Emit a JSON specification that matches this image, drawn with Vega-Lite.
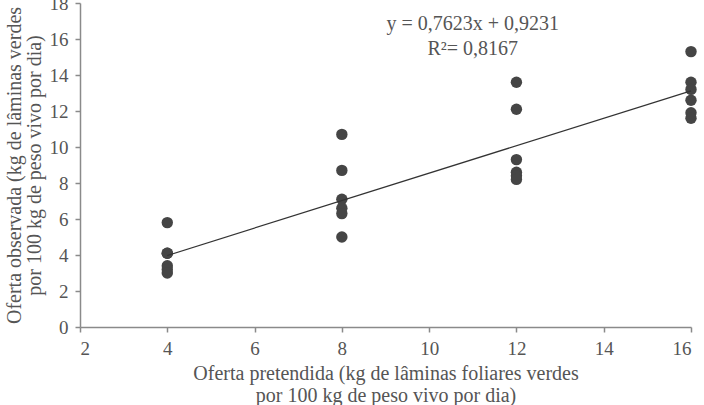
{
  "$schema": "https://vega.github.io/schema/vega-lite/v6.json",
  "width": 611,
  "height": 324,
  "autosize": "none",
  "padding": {"left": 80, "top": 3, "right": 13, "bottom": 78},
  "background": "white",
  "config": {
    "view": {"stroke": null},
    "font": "Liberation Serif",
    "axis": {
      "grid": false,
      "domainColor": "#8a8a8a",
      "domainWidth": 1.5,
      "tickColor": "#8a8a8a",
      "tickWidth": 1.5,
      "tickSize": 5,
      "labelOverlap": false,
      "labelFont": "Liberation Serif",
      "labelFontSize": 19,
      "labelColor": "#555555",
      "titleFont": "Liberation Serif",
      "titleFontSize": 20,
      "titleFontWeight": "normal",
      "titleColor": "#555555"
    }
  },
  "datasets": {
    "pts": [
      {"x": 4, "y": 5.8}, {"x": 4, "y": 4.1}, {"x": 4, "y": 4.1}, {"x": 4, "y": 3.4}, {"x": 4, "y": 3.2}, {"x": 4, "y": 3.0},
      {"x": 8, "y": 10.7}, {"x": 8, "y": 8.7}, {"x": 8, "y": 7.1}, {"x": 8, "y": 6.6}, {"x": 8, "y": 6.3}, {"x": 8, "y": 5.0},
      {"x": 12, "y": 13.6}, {"x": 12, "y": 12.1}, {"x": 12, "y": 9.3}, {"x": 12, "y": 8.6}, {"x": 12, "y": 8.4}, {"x": 12, "y": 8.2},
      {"x": 16, "y": 15.3}, {"x": 16, "y": 13.6}, {"x": 16, "y": 13.2}, {"x": 16, "y": 12.6}, {"x": 16, "y": 11.9}, {"x": 16, "y": 11.6}
    ],
    "fit": [{"x": 4, "y": 3.9723}, {"x": 16, "y": 13.1199}],
    "ann": [
      {"x": 11, "y": 16.85, "t": "y = 0,7623x + 0,9231"},
      {"x": 11, "y": 15.45, "t": "R²= 0,8167"}
    ]
  },
  "encoding": {
    "x": {"field": "x", "type": "quantitative", "scale": {"domain": [2, 16], "nice": false, "zero": false},
          "axis": {"values": [2, 4, 6, 8, 10, 12, 14, 16], "labelPadding": 7,
                   "title": ["Oferta pretendida (kg de lâminas foliares verdes", "por 100 kg de peso vivo por dia)"],
                   "titlePadding": 5, "titleLineHeight": 22}},
    "y": {"field": "y", "type": "quantitative", "scale": {"domain": [0, 18], "nice": false},
          "axis": {"values": [0, 2, 4, 6, 8, 10, 12, 14, 16, 18], "labelPadding": 7,
                   "title": ["Oferta observada (kg de lâminas verdes", "por 100 kg de peso vivo por dia)"],
                   "titlePadding": 5, "titleLineHeight": 20}}
  },
  "layer": [
    {
      "data": {"name": "pts"},
      "mark": {"type": "circle", "size": 130, "color": "#454545", "opacity": 1}
    },
    {
      "data": {"name": "fit"},
      "mark": {"type": "line", "color": "#333333", "strokeWidth": 1.2}
    },
    {
      "data": {"name": "ann"},
      "mark": {"type": "text", "font": "Liberation Serif", "fontSize": 20, "color": "#555555", "align": "center", "baseline": "middle"},
      "encoding": {
        "text": {"field": "t"}
      }
    }
  ]
}
